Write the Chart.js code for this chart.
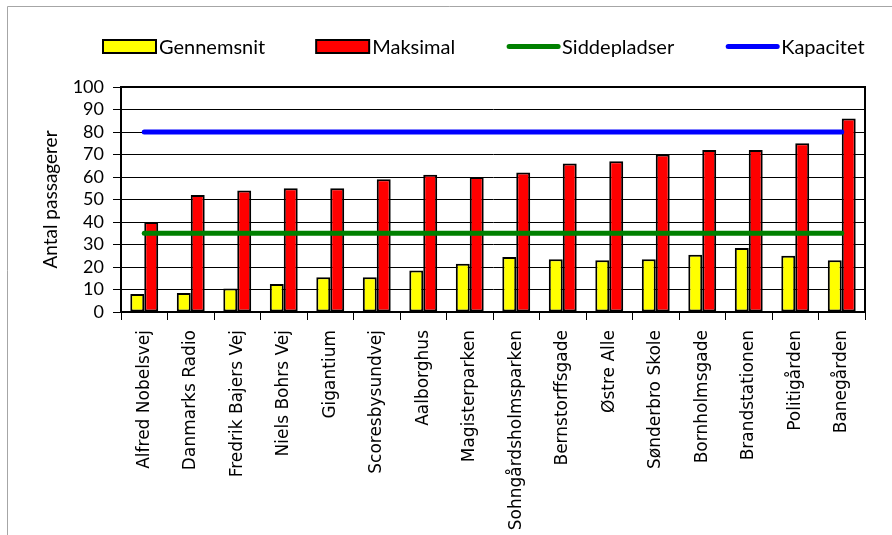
<!DOCTYPE html>
<html>
<head>
<meta charset="utf-8">
<script src="https://cdn.jsdelivr.net/npm/chart.js@4/dist/chart.umd.min.js"></script>
<style>
  html, body { margin: 0; padding: 0; background: #ffffff; }
  #wrap { width: 892px; height: 535px; position: relative; }
</style>
</head>
<body>
<div id="wrap"><canvas id="chart"></canvas></div>
<script>
// Stops along the route
const stops = [
  'Alfred Nobelsvej', 'Danmarks Radio', 'Fredrik Bajers Vej', 'Niels Bohrs Vej',
  'Gigantium', 'Scoresbysundvej', 'Aalborghus', 'Magisterparken',
  'Sohngårdsholmsparken', 'Bernstorffsgade', 'Østre Alle', 'Sønderbro Skole',
  'Bornholmsgade', 'Brandstationen', 'Politigården', 'Banegården'
];

// Passengers on board per stop
const gennemsnit = [8, 8.5, 10.5, 12.5, 15.5, 15.5, 18.5, 21.5, 24.5, 23.5, 23, 23.5, 25.5, 28.5, 25, 23];
const maksimal   = [40, 52, 54, 55, 55, 59, 61, 60, 62, 66, 67, 70, 72, 72, 75, 86];

// Bus seats and total capacity
const siddepladser = [35, 35, 35, 35, 35, 35, 35, 35, 35, 35, 35, 35, 35, 35, 35, 35];
const kapacitet    = [80, 80, 80, 80, 80, 80, 80, 80, 80, 80, 80, 80, 80, 80, 80, 80];

// Value axis
const yMin = 0, yMax = 100, yStep = 10;

const TEXT_FONT = 'Lato, "Open Sans", sans-serif';

// Thin grey outer frame
const framePlugin = {
  id: 'frame',
  beforeDraw(chart) {
    const ctx = chart.ctx;
    ctx.save();
    ctx.fillStyle = '#ffffff';
    ctx.fillRect(0, 0, chart.width, chart.height);
    ctx.strokeStyle = '#a6a6a6';
    ctx.lineWidth = 1;
    ctx.beginPath();
    ctx.moveTo(7.5, chart.height);
    ctx.lineTo(7.5, 6.5);
    ctx.lineTo(chart.width, 6.5);
    ctx.stroke();
    ctx.restore();
  }
};

// Black border round the plot area
const plotBorderPlugin = {
  id: 'plotBorder',
  afterDraw(chart) {
    const a = chart.chartArea;
    const ctx = chart.ctx;
    ctx.save();
    ctx.strokeStyle = '#000000';
    ctx.lineWidth = 2;
    ctx.strokeRect(a.left, a.top, a.right - a.left, a.bottom - a.top);
    ctx.restore();
  }
};

// Legend row above the plot
const topLegendPlugin = {
  id: 'topLegend',
  afterDraw(chart) {
    const ctx = chart.ctx;
    ctx.save();
    ctx.font = '20px ' + TEXT_FONT;
    ctx.textBaseline = 'middle';
    const cy = 46.5;
    let x = 103;
    chart.data.datasets.forEach(ds => {
      if (ds.type === 'line') {
        ctx.strokeStyle = ds.borderColor;
        ctx.lineWidth = 5;
        ctx.lineCap = 'round';
        ctx.beginPath();
        ctx.moveTo(x + 3, cy);
        ctx.lineTo(x + 52, cy);
        ctx.stroke();
      } else {
        ctx.fillStyle = ds.backgroundColor;
        ctx.fillRect(x, cy - 6.5, 53, 13);
        ctx.strokeStyle = '#000000';
        ctx.lineWidth = 2;
        ctx.strokeRect(x, cy - 6.5, 53, 13);
      }
      ctx.fillStyle = '#000000';
      ctx.fillText(ds.label, x + 56, cy + 1);
      x += 56 + ctx.measureText(ds.label).width + 51;
    });
    ctx.restore();
  }
};

new Chart(document.getElementById('chart'), {
  data: {
    labels: stops,
    datasets: [
      {
        type: 'bar', label: 'Gennemsnit', data: gennemsnit,
        backgroundColor: '#ffff00', borderColor: '#000000', borderWidth: 2,
        borderSkipped: false, categoryPercentage: 0.6, barPercentage: 1.0, order: 1
      },
      {
        type: 'bar', label: 'Maksimal', data: maksimal,
        backgroundColor: '#ff0000', borderColor: '#000000', borderWidth: 2,
        borderSkipped: false, categoryPercentage: 0.6, barPercentage: 1.0, order: 1
      },
      {
        type: 'line', label: 'Siddepladser', data: siddepladser,
        borderColor: '#008000', backgroundColor: '#008000', borderWidth: 5,
        pointRadius: 0, borderCapStyle: 'round', order: 0
      },
      {
        type: 'line', label: 'Kapacitet', data: kapacitet,
        borderColor: '#0000ff', backgroundColor: '#0000ff', borderWidth: 5,
        pointRadius: 0, borderCapStyle: 'round', order: 0
      }
    ]
  },
  options: {
    responsive: true,
    maintainAspectRatio: false,
    animation: false,
    layout: { padding: { top: 87, right: 27, left: 0, bottom: 0 } },
    plugins: {
      legend: { display: false },
      tooltip: { enabled: false }
    },
    scales: {
      x: {
        offset: true,
        grid: { offset: true, drawOnChartArea: false, color: '#000000', lineWidth: 1, tickLength: 8 },
        border: { color: '#000000', width: 2 },
        ticks: {
          minRotation: 90, maxRotation: 90, autoSkip: false, padding: 10,
          color: '#000000', font: { family: '"DejaVu Sans", sans-serif', size: 17 }
        },
        afterFit(scale) { scale.height = 535 - 312; }
      },
      y: {
        min: yMin, max: yMax,
        grid: { color: '#000000', lineWidth: 1, tickLength: 8 },
        border: { color: '#000000', width: 2 },
        ticks: {
          stepSize: yStep, autoSkip: false, padding: 9, color: '#000000',
          font: { family: TEXT_FONT, size: 18 }
        },
        title: {
          display: true, text: 'Antal passagerer', color: '#000000',
          font: { family: TEXT_FONT, size: 19 }, padding: { top: 39, bottom: 0 }
        },
        afterFit(scale) { scale.width = 121; }
      }
    }
  },
  plugins: [framePlugin, plotBorderPlugin, topLegendPlugin]
});
</script>
</body>
</html>
